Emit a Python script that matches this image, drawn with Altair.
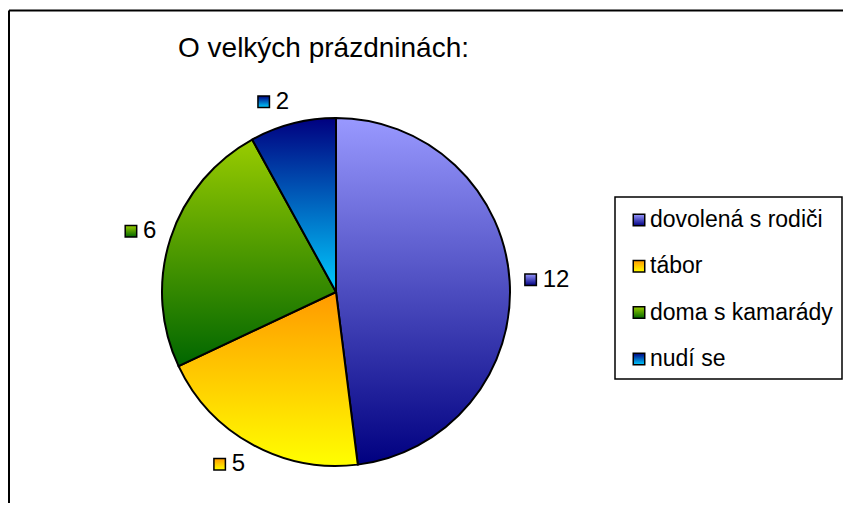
import math
import altair as alt
import pandas as pd

# ---- data ----
categories = ["dovolená s rodiči", "tábor", "doma s kamarády", "nudí se"]
values = [12, 5, 6, 2]
grad_top = ["#9999ff", "#ff9900", "#99cc00", "#000080"]
grad_bottom = ["#000080", "#ffff00", "#006600", "#00ccff"]
title_text = "O velkých prázdninách:"

df = pd.DataFrame({"cat": categories, "value": values, "order": list(range(len(categories)))})
total = sum(values)

# ---- layout constants ----
W, H = 835, 495
CX, CY, R = 328, 284, 174
K = 189          # label anchor distance
FONT = "Liberation Sans"
LBL_SIZE = 24
LEG_SIZE = 23
LEG_X0 = 631
LEG_Y0 = 212
LEG_STEP = 46.3


def grad(i):
    return {
        "gradient": "linear", "x1": 0, "y1": 0, "x2": 0, "y2": 1,
        "stops": [{"offset": 0, "color": grad_top[i]}, {"offset": 1, "color": grad_bottom[i]}],
    }


base = (
    alt.Chart(df)
    .transform_window(cum="sum(value)", sort=[alt.SortField("order")])
    .transform_calculate(start="datum.cum - datum.value")
    .transform_calculate(mid=f"PI * (datum.start + datum.cum) / {total}")
    .transform_calculate(
        sgn="sin(datum.mid) >= 0 ? 1 : -1",
        uw="18 + 13.3 * length(toString(datum.value))",
    )
    .transform_calculate(
        ux=f"{CX} + {K} * sin(datum.mid) + datum.sgn * datum.uw / 2",
        uy=f"{CY} - {K} * cos(datum.mid) - 7.5 * cos(datum.mid)",
        ly=f"{LEG_Y0} + datum.order * {LEG_STEP}",
    )
    .transform_calculate(
        sqx="datum.ux - datum.uw / 2 + 6",
        tx="datum.ux - datum.uw / 2 + 18",
    )
)

theta_scale = alt.Scale(domain=[0, total], range=[0, 2 * math.pi])

single = alt.Chart(pd.DataFrame({"t": [title_text]}))

layers = []

# frame (left and top edges)
layers.append(single.mark_rule(color="#000000", strokeWidth=2).encode(
    x=alt.value(1), y=alt.value(2.5), y2=alt.value(H)))
layers.append(single.mark_rule(color="#000000", strokeWidth=2).encode(
    x=alt.value(1), x2=alt.value(W), y=alt.value(2.5)))

# title
layers.append(single.mark_text(align="left", baseline="middle", font=FONT, fontSize=28, color="black").encode(
    x=alt.value(170), y=alt.value(41), text="t:N"))

# legend box
layers.append(single.mark_rect(fill="white", stroke="#000000", strokeWidth=1.5).encode(
    x=alt.value(607), x2=alt.value(834), y=alt.value(189), y2=alt.value(371)))

for i, cat in enumerate(categories):
    sel = base.transform_filter(alt.FieldEqualPredicate(field="cat", equal=cat))
    # pie slice
    layers.append(sel.mark_arc(fill=grad(i), stroke="black", strokeWidth=2, outerRadius=R).encode(
        theta=alt.Theta("start:Q", scale=theta_scale),
        theta2="cum:Q",
        x=alt.value(CX), y=alt.value(CY),
    ))
    # data label square
    layers.append(sel.mark_square(size=132, fill=grad(i), stroke="black", strokeWidth=1.5, opacity=1).encode(
        x=alt.X("sqx:Q", scale=None, axis=None),
        y=alt.Y("uy:Q", scale=None, axis=None),
    ))
    # legend square
    layers.append(sel.mark_square(size=132, fill=grad(i), stroke="black", strokeWidth=1.5, opacity=1).encode(
        x=alt.value(LEG_X0),
        y=alt.Y("ly:Q", scale=None, axis=None),
    ))

# data label text
layers.append(base.mark_text(align="left", baseline="middle", font=FONT, fontSize=LBL_SIZE, color="black").encode(
    x=alt.X("tx:Q", scale=None, axis=None),
    y=alt.Y("uy:Q", scale=None, axis=None),
    text="value:Q",
))

# legend text
layers.append(base.mark_text(align="left", baseline="middle", font=FONT, fontSize=LEG_SIZE, color="black").encode(
    x=alt.value(LEG_X0 + 11),
    y=alt.Y("ly:Q", scale=None, axis=None),
    text="cat:N",
))

chart = (
    alt.layer(*layers)
    .properties(width=W, height=H, padding=0, autosize=alt.AutoSizeParams(type="none"), background="white")
    .configure_view(stroke=None)
)

chart.save("out.html", embed_options={"renderer": "svg", "actions": False})
